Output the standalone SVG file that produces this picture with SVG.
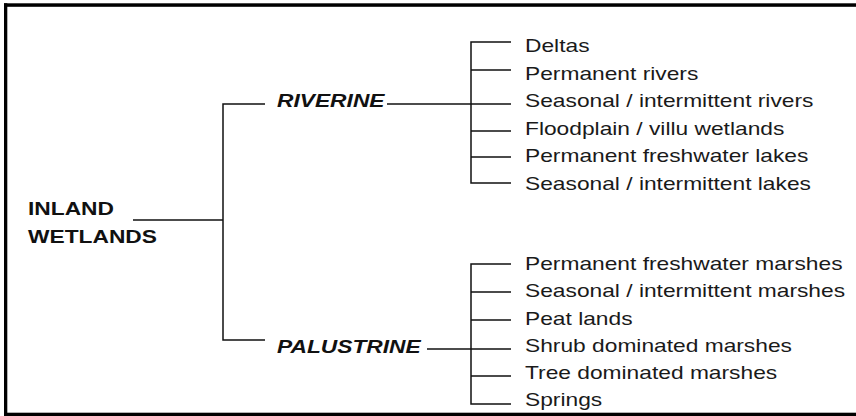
<svg xmlns="http://www.w3.org/2000/svg" width="856" height="416" viewBox="0 0 856 416">
  <style>
    .frame { fill: #000; }
    .wire { fill: none; stroke: #111; stroke-width: 1.5; }
    .root { font-family: "Liberation Sans", Arial, sans-serif; font-size: 18px; font-weight: bold; fill: #111; }
    .cls { font-family: "Liberation Sans", Arial, sans-serif; font-size: 18px; font-weight: bold; font-style: italic; fill: #111; }
    .leaf { font-family: "Liberation Sans", Arial, sans-serif; font-size: 18px; fill: #1a1a1a; }
  </style>

  <rect width="856" height="416" fill="#fff"/>

  <!-- frame: open on the right -->
  <g id="frame">
    <rect class="frame" x="4" y="3.3" width="852" height="3.5"/>
    <rect class="frame" x="4" y="3.3" width="3.3" height="413"/>
    <rect class="frame" x="4" y="412.7" width="852" height="3.5"/>
  </g>

  <!-- connectors -->
  <g id="connectors" class="wire">
    <!-- root to classes -->
    <path d="M133 220H223"/>
    <path d="M265 104H223V340H265"/>
    <!-- RIVERINE fan -->
    <path d="M387 104H471"/>
    <path d="M511 42H471V183H511"/>
    <path d="M471 70H511M471 104H511M471 131H511M471 157H511"/>
    <!-- PALUSTRINE fan -->
    <path d="M427 349H471"/>
    <path d="M511 264H471V404H511"/>
    <path d="M471 292H511M471 320H511M471 349H511M471 376H511"/>
  </g>

  <g id="node-inland">
    <text class="root" transform="translate(28 215) scale(1.265 1)">INLAND</text>
    <text class="root" transform="translate(28 243) scale(1.265 1)">WETLANDS</text>
  </g>

  <g id="node-riverine">
    <text class="cls" transform="translate(277 107) scale(1.265 1)">RIVERINE</text>
  </g>
  <g id="node-palustrine">
    <text class="cls" transform="translate(277 353) scale(1.265 1)">PALUSTRINE</text>
  </g>

  <g id="riverine-types">
    <text class="leaf" transform="translate(525 52) scale(1.265 1)">Deltas</text>
    <text class="leaf" transform="translate(525 79.5) scale(1.265 1)">Permanent rivers</text>
    <text class="leaf" transform="translate(525 107) scale(1.265 1)">Seasonal / intermittent rivers</text>
    <text class="leaf" transform="translate(525 134.5) scale(1.265 1)">Floodplain / villu wetlands</text>
    <text class="leaf" transform="translate(525 162) scale(1.265 1)">Permanent freshwater lakes</text>
    <text class="leaf" transform="translate(525 189.5) scale(1.265 1)">Seasonal / intermittent lakes</text>
  </g>

  <g id="palustrine-types">
    <text class="leaf" transform="translate(525 270) scale(1.265 1)">Permanent freshwater marshes</text>
    <text class="leaf" transform="translate(525 297) scale(1.265 1)">Seasonal / intermittent marshes</text>
    <text class="leaf" transform="translate(525 324.5) scale(1.265 1)">Peat lands</text>
    <text class="leaf" transform="translate(525 351.5) scale(1.265 1)">Shrub dominated marshes</text>
    <text class="leaf" transform="translate(525 379) scale(1.265 1)">Tree dominated marshes</text>
    <text class="leaf" transform="translate(525 406) scale(1.265 1)">Springs</text>
  </g>
</svg>
